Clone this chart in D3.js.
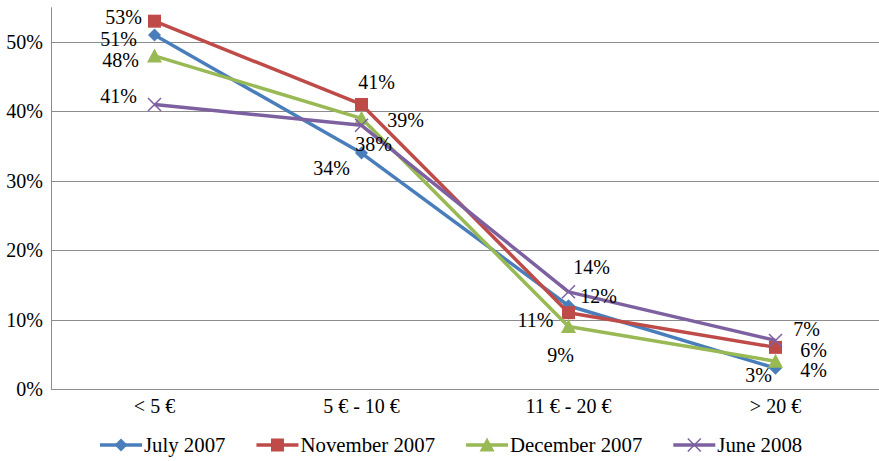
<!DOCTYPE html>
<html>
<head>
<meta charset="utf-8">
<script src="https://cdn.jsdelivr.net/npm/d3@7"></script>
<style>
  html, body { margin: 0; padding: 0; background: #fff; }
  svg { display: block; }
  text { font-family: "Liberation Serif", "Times New Roman", serif; fill: #000; }
</style>
</head>
<body>
<svg id="chart" width="879" height="461"></svg>
<script>
// ---- data ----
const categories = ["< 5 €", "5 € - 10 €", "11 € - 20 €", "> 20 €"];
const seriesNames = ["July 2007", "November 2007", "December 2007", "June 2008"];
const july2007 = [51, 34, 12, 3];
const november2007 = [53, 41, 11, 6];
const december2007 = [48, 39, 9, 4];
const june2008 = [41, 38, 14, 7];
const yTicks = [0, 10, 20, 30, 40, 50];

// ---- style / layout ----
const colors = ["#4A7EBB", "#BE4B48", "#98B954", "#7D60A0"];
const markers = ["diamond", "square", "triangle", "cross"];
// label offsets (px) from each point, per series
const labelOffsets = [
  [[-36, 4], [-30, 15], [30, -10], [-17, 7]],
  [[-31, -4], [15, -22], [-33, 7], [38, 3]],
  [[-34, 4], [44, 2], [-8, 28], [38, 9]],
  [[-36, -8], [12, 19], [23, -25], [31, -11]]
];

const values = [july2007, november2007, december2007, june2008];
const svg = d3.select("#chart");
const left = 51, right = 879, bottom = 389;

const x = d3.scaleBand().domain(categories).range([left, right]);
const y = d3.scaleLinear().domain([0, 55]).range([bottom, 7.3]);
const cx = c => x(c) + x.bandwidth() / 2;

// gridlines
svg.append("g").selectAll("line").data(yTicks.filter(t => t > 0)).join("line")
  .attr("x1", left).attr("x2", right)
  .attr("y1", d => Math.round(y(d)) + 0.5).attr("y2", d => Math.round(y(d)) + 0.5)
  .attr("stroke", "#8c8c8c").attr("stroke-width", 1);

// axes lines
svg.append("line").attr("x1", left + 0.5).attr("x2", left + 0.5).attr("y1", y(55)).attr("y2", bottom)
  .attr("stroke", "#8c8c8c");
svg.append("line").attr("x1", left).attr("x2", right).attr("y1", bottom + 0.5).attr("y2", bottom + 0.5)
  .attr("stroke", "#8c8c8c");

// y tick labels
svg.append("g").selectAll("text").data(yTicks).join("text")
  .attr("x", 43).attr("y", d => y(d)).attr("dy", "0.35em")
  .attr("text-anchor", "end").attr("font-size", 20)
  .text(d => d + "%");

// x tick labels
svg.append("g").selectAll("text").data(categories).join("text")
  .attr("x", d => cx(d)).attr("y", 406).attr("dy", "0.35em")
  .attr("text-anchor", "middle").attr("font-size", 20)
  .text(d => d);

function drawMarker(g, type, px, py, color, s) {
  if (type === "diamond") {
    g.append("path").attr("d", `M${px},${py - s}L${px + s},${py}L${px},${py + s}L${px - s},${py}Z`).attr("fill", color);
  } else if (type === "square") {
    g.append("rect").attr("x", px - s).attr("y", py - s).attr("width", 2 * s).attr("height", 2 * s).attr("fill", color);
  } else if (type === "triangle") {
    g.append("path").attr("d", `M${px},${py - s - 1}L${px + s + 1},${py + s}L${px - s - 1},${py + s}Z`).attr("fill", color);
  } else {
    g.append("path").attr("d", `M${px - s},${py - s}L${px + s},${py + s}M${px - s},${py + s}L${px + s},${py - s}`)
      .attr("stroke", color).attr("stroke-width", 1.5).attr("fill", "none");
  }
}

const line = d3.line().x((d, i) => cx(categories[i])).y(d => y(d));

values.forEach((vals, si) => {
  const g = svg.append("g");
  g.append("path").datum(vals).attr("d", line)
    .attr("fill", "none").attr("stroke", colors[si]).attr("stroke-width", 3.5)
    .attr("stroke-linejoin", "round");
  vals.forEach((v, i) => drawMarker(g, markers[si], cx(categories[i]), y(v), colors[si], 6.5));
});

// data labels (on top)
values.forEach((vals, si) => {
  svg.append("g").selectAll("text").data(vals).join("text")
    .attr("x", (d, i) => cx(categories[i]) + labelOffsets[si][i][0])
    .attr("y", (d, i) => y(d) + labelOffsets[si][i][1])
    .attr("dy", "0.35em").attr("text-anchor", "middle").attr("font-size", 20)
    .text(d => d + "%");
});

// legend
const legend = svg.append("g");
const lineLen = 42, gap = 31, ly = 445;
const items = seriesNames.map((name, i) => {
  const g = legend.append("g");
  const t = g.append("text").attr("x", lineLen + 2).attr("y", ly).attr("dy", "0.35em")
    .attr("font-size", 20.8).text(name);
  const w = t.node().getComputedTextLength();
  g.append("line").attr("x1", 0).attr("x2", lineLen).attr("y1", ly).attr("y2", ly)
    .attr("stroke", colors[i]).attr("stroke-width", 3.5);
  drawMarker(g, markers[i], lineLen / 2, ly, colors[i], 6.5);
  return { g, w: lineLen + 2 + w };
});
let lx = 100;
items.forEach(it => { it.g.attr("transform", `translate(${lx},0)`); lx += it.w + gap; });
</script>
</body>
</html>
